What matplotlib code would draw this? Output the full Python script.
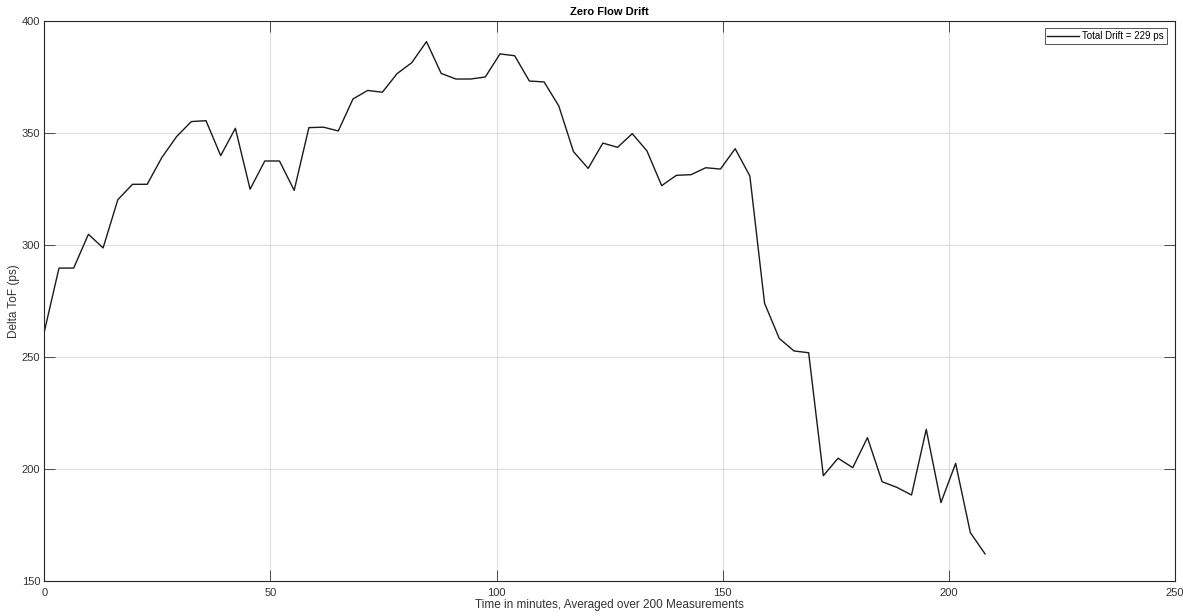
import numpy as np
import matplotlib
matplotlib.use("Agg")
import matplotlib.pyplot as plt

plt.rcParams['font.family'] = ['Liberation Sans', 'DejaVu Sans']

time_step = 3.25  # minutes between averaged points
delta_tof = [261.3, 289.7, 289.7, 304.8, 298.7, 320.2, 327.1, 327.1, 339.1, 348.4,
             355.1, 355.5, 339.9, 352.1, 324.9, 337.5, 337.5, 324.4, 352.4, 352.6,
             350.9, 365.2, 369.0, 368.2, 376.5, 381.4, 390.8, 376.6, 374.1, 374.1,
             375.0, 385.3, 384.5, 373.2, 372.8, 362.1, 341.7, 334.2, 345.5, 343.6,
             349.7, 342.0, 326.5, 331.1, 331.4, 334.5, 333.9, 343.0, 330.8, 274.0,
             258.3, 252.7, 251.9, 197.0, 204.8, 200.6, 214.0, 194.3, 191.8, 188.4,
             217.7, 185.0, 202.5, 171.6, 162.1]
time_min = np.arange(len(delta_tof)) * time_step

x_ticks = [0, 50, 100, 150, 200, 250]
y_ticks = [150, 200, 250, 300, 350, 400]
title = "Zero Flow Drift"
x_label = "Time in minutes, Averaged over 200 Measurements"
y_label = "Delta ToF (ps)"
legend_label = "Total Drift = 229 ps"

txt_col = '#333333'
fig = plt.figure(figsize=(11.83, 6.16), dpi=100)
ax = fig.add_axes([44.3/1183, 1-581/616, (1175-44.3)/1183, (581-21)/616])

ax.plot(time_min, delta_tof, color='#1a1a1a', lw=1.0, label=legend_label)

ax.set_xlim(0, 250)
ax.set_ylim(150, 400)
ax.set_xticks(x_ticks)
ax.set_yticks(y_ticks)
ax.grid(True, color='#dedede', lw=0.8)
ax.set_axisbelow(True)
ax.tick_params(direction='in', length=8, width=0.6, colors=txt_col,
               top=True, right=True, labelsize=8, pad=3)
ax.tick_params(axis='x', pad=5)
for s in ax.spines.values():
    s.set_color('#262626')
    s.set_linewidth(0.8)

ax.set_title(title, fontsize=8, fontweight='bold', color='black', pad=4)
ax.set_xlabel(x_label, fontsize=8.5, color=txt_col, labelpad=1)
ax.set_ylabel(y_label, fontsize=8.5, color=txt_col, labelpad=1)

leg = ax.legend(loc='upper right', fontsize=7, frameon=True, fancybox=False,
                handlelength=3.2, borderpad=0.3, handletextpad=0.4,
                borderaxespad=0, bbox_to_anchor=(0.9929, 0.9875))
leg.get_frame().set_edgecolor('#262626')
leg.get_frame().set_linewidth(0.7)

fig.savefig('out.png', dpi=100)
